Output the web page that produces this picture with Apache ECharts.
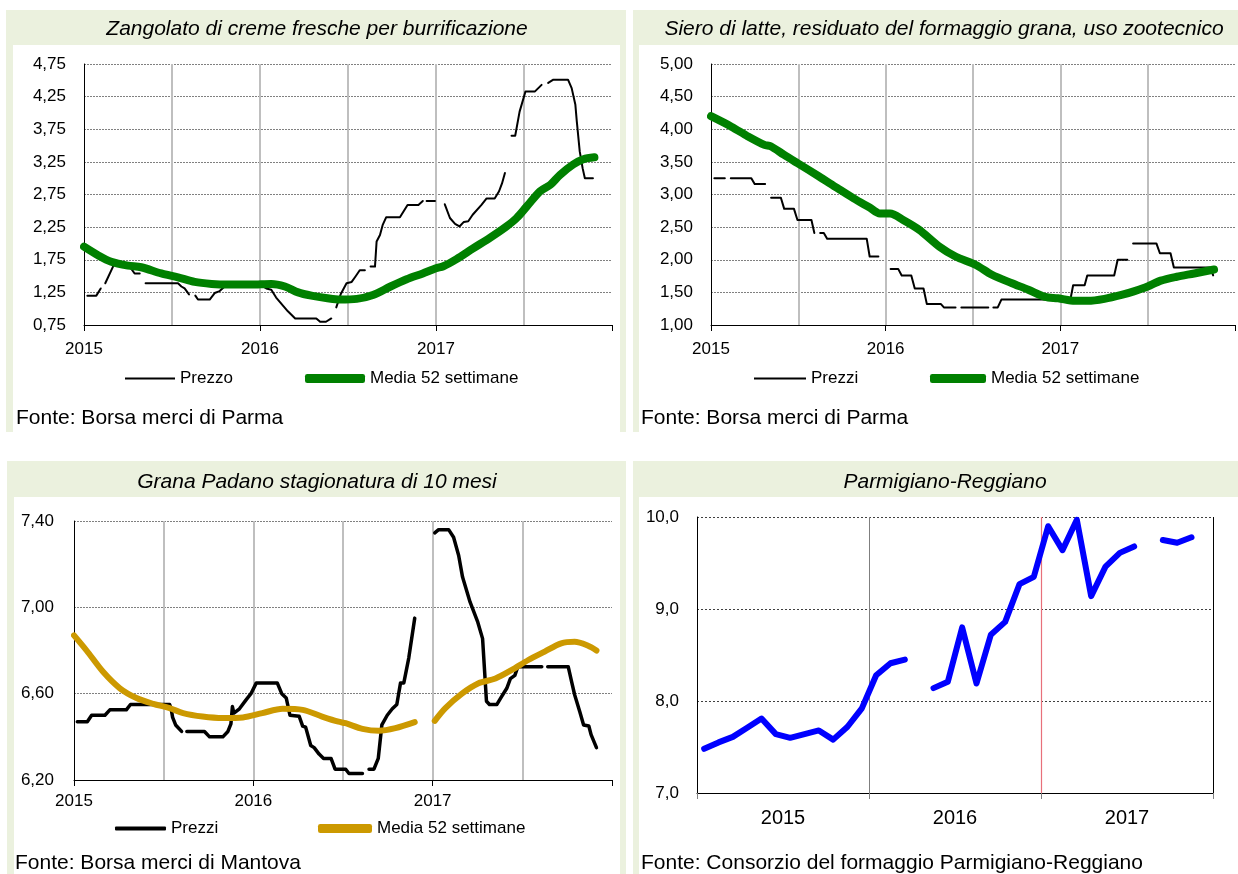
<!DOCTYPE html>
<html>
<head>
<meta charset="utf-8">
<script src="https://cdn.jsdelivr.net/npm/echarts@6/dist/echarts.min.js"></script>
<style>
html,body{margin:0;padding:0;background:#fff;}
#main{width:1238px;height:874px;}
</style>
</head>
<body>
<div id="main"></div>
<script>
// x = months from Jan 2015 (0 = 2015, 12 = 2016, 24 = 2017); null = gap in the series

// Zangolato di creme fresche
var zangPrezzoX = [0.23,0.84,1.14,1.3, 1.45,2.05,3.0,3.23,3.45,3.8,4.0, 4.2,6.41,6.64,6.86,7.16,7.4,
  7.59,7.77,8.57,8.91,9.25,9.59,9.77,10.27,11.86,12.43,12.77,13.1,13.9,14.4,15.84,16.1,16.5,16.86,17.05,
  17.2,17.5,17.9,18.25,18.5,18.8,19.15,19.35,
  19.54,19.84,19.95,20.18,20.36,20.6,21.54,22.06,22.8,23.1,23.2, 23.36,23.93,24.3,
  24.6,24.95,25.3,25.6,25.9,26.2,26.5,27.1,27.45,28.0,28.3,28.5,28.7,28.9,
  29.15,29.4,29.7,30.1,30.75,31.2,31.4, 31.65,32.0,33.0,33.25,33.5,33.6,33.8,34.0,34.15,34.7];
var zangPrezzo = [1.20,1.20,1.31,null, 1.39,1.68,1.70,1.61,1.54,1.54,null, 1.39,1.39,1.34,1.31,1.22,null,
  1.20,1.14,1.14,1.24,1.27,1.34,1.36,1.39,1.39,1.31,1.29,1.17,0.96,0.85,0.85,0.80,0.80,0.85,null,
  1.02,1.22,1.39,1.41,1.49,1.59,1.59,null,
  1.645,1.645,2.03,2.13,2.28,2.40,2.40,2.59,2.59,2.65,null, 2.65,2.65,null,
  2.60,2.39,2.30,2.26,2.33,2.34,2.44,2.59,2.69,2.69,2.80,2.92,3.08,null,
  3.65,3.65,4.02,4.33,4.33,4.43,null, 4.46,4.51,4.51,4.38,4.13,3.87,3.41,3.15,3.00,3.00];
var zangMediaX = [0,0.95,1.86,3.0,3.9,5.27,6.41,7.55,8.7,9.8,11.4,12.77,13.7,14.6,15.5,16.6,17.45,18.6,19.7,
  20.9,22.0,23.1,24.0,24.5,25.4,26.5,27.7,28.8,29.5,30.2,31.1,31.8,32.45,33.35,34.05,34.8];
var zangMedia = [1.95,1.82,1.72,1.66,1.635,1.54,1.48,1.41,1.38,1.37,1.37,1.38,1.34,1.25,1.20,1.16,1.14,1.15,1.21,
  1.34,1.45,1.54,1.62,1.65,1.76,1.92,2.09,2.26,2.39,2.57,2.80,2.90,3.05,3.21,3.29,3.32];

// Siero di latte
var sieroPrezzoX = [0.23,0.95,1.15, 1.36,2.77,3.0,3.72,3.9, 4.13,4.8,5.03,5.7,5.94,6.9,7.1,7.3,
  7.5,7.75,7.98,10.7,10.9,11.5,12.0, 12.34,12.86,13.1,13.76,14.0,14.6,14.83,15.8,16.0,16.8,17.0,
  17.2,19.05,19.2, 19.4,19.7,19.95,22.95,24.7,24.88,25.67,25.85,27.7,27.94,28.6,28.8,
  29.0,30.6,30.84,31.57,31.8,34.3,34.5];
var sieroPrezzo = [3.25,3.25,null, 3.25,3.25,3.16,3.16,null, 2.95,2.95,2.78,2.78,2.61,2.61,2.41,null,
  2.41,2.41,2.32,2.32,2.05,2.05,null, 1.86,1.86,1.76,1.76,1.56,1.56,1.32,1.32,1.27,1.27,null,
  1.27,1.27,null, 1.27,1.27,1.39,1.39,1.40,1.61,1.61,1.76,1.76,2.00,2.00,null,
  2.25,2.25,2.10,2.10,1.88,1.88,1.76];
var sieroMediaX = [0,1.4,2.54,3.67,4.1,5.0,5.94,7.4,8.66,9.8,10.9,11.6,12.3,13.2,14.3,15.7,16.8,18.2,19.3,
  20.68,21.8,22.95,23.85,25.0,25.9,27.03,28.2,29.1,30.0,30.9,32.0,33.2,34.56];
var sieroMedia = [4.20,4.04,3.89,3.76,3.74,3.61,3.48,3.28,3.10,2.94,2.80,2.71,2.71,2.61,2.46,2.20,2.05,1.92,1.77,
  1.64,1.54,1.43,1.41,1.37,1.37,1.40,1.46,1.52,1.59,1.68,1.74,1.79,1.85];

// Grana Padano 10 mesi
var granaPrezzoX = [0.22,0.89,1.18,2.07,2.4,3.5,3.78,6.4,6.5,6.6,6.8,7.2,7.35,
  7.55,8.73,9.07,9.96,10.3,10.5,10.6,10.7,11.07,11.5,11.84,12.2,13.6,13.9,14.2,14.45,15.07,15.3,15.5,
  15.84,16.07,16.4,16.7,17.2,17.47,18.18,18.4,19.3,19.5,
  19.74,20.07,20.36,20.6,20.96,21.3,21.6,21.85,22.07,22.4,22.8,23.5,
  24.14,24.4,25.07,25.4,25.74,26.0,26.5,27.0,27.34,27.6,27.8,28.3,28.6,28.96,29.2,29.5,29.7,31.3,31.5,
  31.7,33.07,33.3,33.5,33.85,34.1,34.45,34.6,34.96];
var granaPrezzo = [6.47,6.47,6.50,6.50,6.525,6.525,6.55,6.55,6.53,6.49,6.455,6.425,null,
  6.425,6.425,6.40,6.40,6.425,6.46,6.54,6.51,6.53,6.57,6.60,6.65,6.65,6.60,6.58,6.50,6.495,6.45,6.445,
  6.36,6.35,6.32,6.30,6.30,6.25,6.25,6.23,6.23,null,
  6.25,6.25,6.30,6.455,6.50,6.53,6.55,6.65,6.65,6.765,6.95,null,
  7.345,7.36,7.36,7.325,7.24,7.14,7.025,6.935,6.855,6.565,6.55,6.55,6.585,6.625,6.67,6.685,6.725,6.725,null,
  6.725,6.725,6.655,6.595,6.515,6.455,6.45,6.41,6.35];
var granaMediaX = [0,0.84,1.96,3.07,4.18,5.3,6.4,7.3,8.6,9.96,11.3,12.6,13.96,15.3,16.6,17.7,18.18,19.3,20.4,21.5,22.8,23.5,
  24.14,24.85,25.96,27.07,28.2,29.3,30.4,31.5,32.6,33.5,34.4,34.96];
var granaMedia = [6.87,6.80,6.70,6.625,6.58,6.553,6.533,6.51,6.494,6.487,6.49,6.51,6.53,6.525,6.494,6.47,6.463,6.437,6.428,6.44,6.468,null,
  6.474,6.533,6.60,6.648,6.67,6.71,6.756,6.795,6.833,6.84,6.822,6.80];

// Parmigiano-Reggiano, monthly Jan 2015 - Dec 2017
var parmMesi = ['gen15','feb15','mar15','apr15','mag15','giu15','lug15','ago15','set15','ott15','nov15','dic15',
  'gen16','feb16','mar16','apr16','mag16','giu16','lug16','ago16','set16','ott16','nov16','dic16',
  'gen17','feb17','mar17','apr17','mag17','giu17','lug17','ago17','set17','ott17','nov17','dic17'];
var parmPrezzo = [7.48,7.55,7.61,7.71,7.81,7.64,7.60,7.64,7.68,7.58,7.72,7.92,
  8.28,8.41,8.45,null,8.14,8.21,8.80,8.19,8.72,8.86,9.27,9.35,
  9.90,9.64,9.97,9.14,9.46,9.61,9.68,null,9.75,9.72,9.78,null];
var anni = ['2015','2016','2017'];

var sans = "'Liberation Sans',Arial,sans-serif";
var small = 17; // stands in for the condensed face of the original

function pairs(xs, ys){
  return xs.map(function(x, i){ return [x, ys[i] == null ? '-' : ys[i]]; });
}
function comma(d){
  return function(v){ return v.toFixed(d).replace('.', ','); };
}

var chart = echarts.init(document.getElementById('main'), null, {renderer: 'canvas'});

// panel boxes: green frame with white plot area
var boxes = [
  {x: 6, y: 10, w: 620, h: 422, wx: 13, wy: 45, ww: 607},
  {x: 633, y: 10, w: 610, h: 422, wx: 639, wy: 45, ww: 605},
  {x: 7, y: 461, w: 619, h: 420, wx: 14, wy: 497, ww: 606},
  {x: 633, y: 461, w: 610, h: 420, wx: 639, wy: 497, ww: 605}
];
var graphics = [];
boxes.forEach(function(b){
  graphics.push({type: 'rect', z: -10, shape: {x: b.x, y: b.y, width: b.w, height: b.h}, style: {fill: '#EBF1DE'}});
  graphics.push({type: 'rect', z: -9, shape: {x: b.wx, y: b.wy, width: b.ww, height: b.h - (b.wy - b.y)}, style: {fill: '#fff'}});
});
[['Fonte: Borsa merci di Parma', 16, 418], ['Fonte: Borsa merci di Parma', 641, 418],
 ['Fonte: Borsa merci di Mantova', 15, 863], ['Fonte: Consorzio del formaggio Parmigiano-Reggiano', 641, 863]]
.forEach(function(f){
  graphics.push({type: 'text', z: 5, x: f[1], y: f[2],
    style: {text: f[0], font: '21px ' + sans, fill: '#000', textVerticalAlign: 'middle'}});
});

var titles = [
  ['Zangolato di creme fresche per burrificazione', 317, 19],
  ['Siero di latte, residuato del formaggio grana, uso zootecnico', 944, 19],
  ['Grana Padano stagionatura di 10 mesi', 317, 472],
  ['Parmigiano-Reggiano', 945, 472]
].map(function(t){
  return {text: t[0], left: t[1], top: t[2], textAlign: 'center', padding: 0,
    textStyle: {fontFamily: sans, fontSize: 21, fontStyle: 'italic', fontWeight: 'normal', color: '#000'}};
});

var grids = [
  {left: 84, top: 64, width: 528, height: 261},
  {left: 711, top: 64, width: 530, height: 261},
  {left: 74, top: 521, width: 538, height: 259},
  {left: 697, top: 517, width: 516, height: 276}
];

var xAxes = [], yAxes = [];
// panels 1-3: half-year grid axis + yearly label axis
[0, 1, 2].forEach(function(g){
  xAxes.push({type: 'value', gridIndex: g, position: 'bottom', min: 0, max: 36, interval: 6,
    axisLine: {show: true, onZero: false, lineStyle: {color: '#000', width: 1}},
    axisTick: {show: false}, axisLabel: {show: false},
    splitLine: {show: true, showMinLine: false, showMaxLine: false, lineStyle: {color: '#BFBFBF', width: 2}}});
  xAxes.push({type: 'value', gridIndex: g, position: 'bottom', min: 0, max: 36, interval: 12,
    axisLine: {show: false, onZero: false}, splitLine: {show: false},
    axisTick: {show: true, length: 6, lineStyle: {color: '#000'}},
    axisLabel: {margin: g === 2 ? 13 : 16, fontFamily: sans, fontSize: small, color: '#000',
      formatter: function(v){ return v < 36 ? anni[v / 12] : ''; }}});
});
// panel 4
xAxes.push({type: 'value', gridIndex: 3, position: 'bottom', min: 0, max: 36, interval: 12,
  axisLine: {show: true, onZero: false, lineStyle: {color: '#000'}},
  axisTick: {show: true, length: 6, lineStyle: {color: '#808080'}}, axisLabel: {show: false},
  splitLine: {show: false}});
xAxes.push({type: 'value', gridIndex: 3, position: 'bottom', min: 0, max: 36, interval: 6,
  axisLine: {show: false, onZero: false}, axisTick: {show: false}, splitLine: {show: false},
  axisLabel: {margin: 15, fontFamily: sans, fontSize: 20, color: '#000',
    formatter: function(v){ return v % 12 === 6 ? anni[(v - 6) / 12] : ''; }}});

var dotted = {color: '#808080', width: 1, type: [2, 1]};
function yLabel(d, min, step){
  return function(v){
    return Math.round((v - min) / step) % 2 === 0 ? v.toFixed(d).replace('.', ',') : '';
  };
}
yAxes.push({type: 'value', gridIndex: 0, min: 0.75, max: 4.75, interval: 0.25,
  axisLine: {show: true, lineStyle: {color: '#000'}}, axisTick: {show: false},
  axisLabel: {margin: 18, fontFamily: sans, fontSize: small, color: '#000', formatter: yLabel(2, 0.75, 0.25)},
  splitLine: {show: true, lineStyle: {color: ['#808080', 'rgba(0,0,0,0)'], width: 1, type: [2, 1]}}});
yAxes.push({type: 'value', gridIndex: 1, min: 1, max: 5, interval: 0.5,
  axisLine: {show: true, lineStyle: {color: '#000'}}, axisTick: {show: false},
  axisLabel: {margin: 18, fontFamily: sans, fontSize: small, color: '#000', formatter: comma(2)},
  splitLine: {show: true, lineStyle: dotted}});
yAxes.push({type: 'value', gridIndex: 2, min: 6.2, max: 7.4, interval: 0.2,
  axisLine: {show: true, lineStyle: {color: '#000'}}, axisTick: {show: false},
  axisLabel: {margin: 20, fontFamily: sans, fontSize: small, color: '#000', formatter: yLabel(2, 6.2, 0.2)},
  splitLine: {show: true, lineStyle: {color: ['#808080', 'rgba(0,0,0,0)'], width: 1, type: [2, 1]}}});
yAxes.push({type: 'value', gridIndex: 3, min: 7, max: 10, interval: 1,
  axisLine: {show: true, lineStyle: {color: '#000'}}, axisTick: {show: false},
  axisLabel: {margin: 18, fontFamily: sans, fontSize: small, color: '#000', formatter: comma(1)},
  splitLine: {show: true, lineStyle: {color: '#404040', width: 1, type: [2, 2]}}});

function line(name, x, y, color, width, smooth){
  return {type: 'line', name: name, xAxisIndex: x, yAxisIndex: y, symbol: 'none', silent: true,
    smooth: smooth || false, connectNulls: false, animation: false,
    lineStyle: {color: color, width: width, cap: 'round', join: 'round'}, itemStyle: {color: color}};
}
var series = [];
var s;
s = line('Prezzo', 0, 0, '#000', 2); s.data = pairs(zangPrezzoX, zangPrezzo); series.push(s);
s = line('Media 52 settimane', 0, 0, '#008000', 8, 0.3); s.data = pairs(zangMediaX, zangMedia); series.push(s);
s = line('Prezzi', 2, 1, '#000', 2); s.data = pairs(sieroPrezzoX, sieroPrezzo); series.push(s);
s = line('Media 52 settimane', 2, 1, '#008000', 8, 0.3); s.data = pairs(sieroMediaX, sieroMedia); series.push(s);
s = line('Prezzi', 4, 2, '#000', 3.5); s.data = pairs(granaPrezzoX, granaPrezzo); series.push(s);
s = line('Media 52 settimane', 4, 2, '#CC9900', 6, 0.3); s.data = pairs(granaMediaX, granaMedia); series.push(s);
s = line('Parmigiano-Reggiano', 6, 3, '#0000FF', 6);
s.data = parmPrezzo.map(function(v, i){ return [i + 0.5, v == null ? '-' : v]; });
// year separators: grey, red, and the black right border
s.markLine = {silent: true, symbol: 'none', z: 1, label: {show: false}, animation: false,
  data: [
    {xAxis: 12, lineStyle: {color: '#7F7F7F', width: 1, type: 'solid'}},
    {xAxis: 24, lineStyle: {color: '#E8707A', width: 1.2, type: 'solid'}},
    {xAxis: 36, lineStyle: {color: '#000', width: 1, type: 'solid'}}
  ]};
series.push(s);

function legend(name, left, cy, w, h, color){
  return {left: left, top: cy - 10, padding: 0, selectedMode: false, itemWidth: w, itemHeight: h,
    textStyle: {fontFamily: sans, fontSize: small, color: '#000'},
    data: [{name: name, icon: h > 3 ? 'roundRect' : 'rect', itemStyle: {color: color, borderWidth: 0}}]};
}
var legends = [
  legend('Prezzo', 125, 380, 50, 2, '#000'),
  legend('Media 52 settimane', 305, 380, 60, 9, '#008000'),
  legend('Prezzi', 754, 380, 52, 2, '#000'),
  legend('Media 52 settimane', 930, 380, 56, 9, '#008000'),
  legend('Prezzi', 115, 830, 51, 4, '#000'),
  legend('Media 52 settimane', 318, 830, 54, 9, '#CC9900')
];

chart.setOption({
  backgroundColor: '#fff',
  animation: false,
  title: titles,
  grid: grids,
  xAxis: xAxes,
  yAxis: yAxes,
  legend: legends,
  series: series,
  graphic: graphics
});
</script>
</body>
</html>
